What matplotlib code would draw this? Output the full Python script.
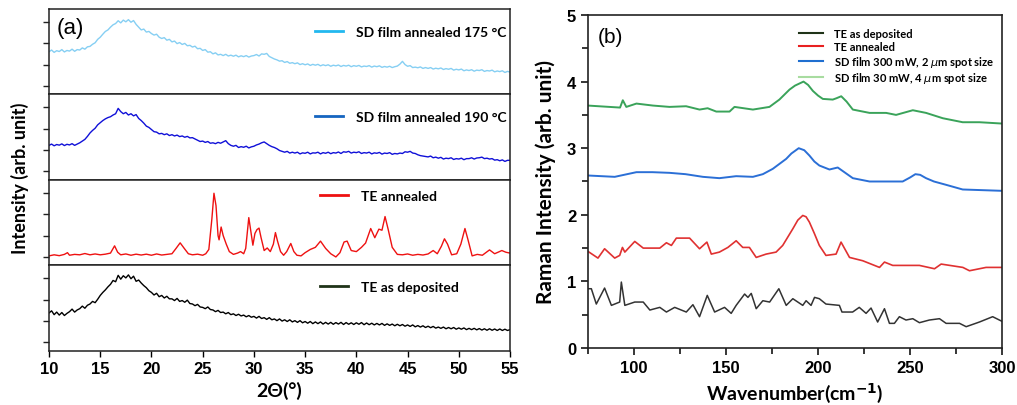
import numpy as np
import matplotlib
matplotlib.use("Agg")
import matplotlib.pyplot as plt
from matplotlib.lines import Line2D

# ---------------- XRD data (panel a), arbitrary units per sub-panel ----------------
two_theta = np.arange(10, 55.001, 0.25)

xrd_175 = [
    1.60, 1.68, 1.57, 1.65, 1.61, 1.70, 1.59, 1.66, 1.63, 1.72, 1.62, 1.70,
    1.68, 1.78, 1.72, 1.83, 1.85, 1.95, 2.02, 2.18, 2.28, 2.42, 2.55, 2.62,
    2.75, 2.86, 2.92, 3.05, 2.95, 3.08, 3.00, 3.10, 2.98, 3.06, 2.88, 2.75,
    2.62, 2.66, 2.52, 2.55, 2.45, 2.38, 2.42, 2.28, 2.22, 2.26, 2.14, 2.18,
    2.06, 2.10, 1.98, 2.03, 1.94, 1.99, 1.88, 1.90, 1.82, 1.86, 1.74, 1.76,
    1.66, 1.70, 1.58, 1.60, 1.50, 1.55, 1.45, 1.48, 1.42, 1.48, 1.40, 1.44,
    1.39, 1.44, 1.36, 1.41, 1.37, 1.42, 1.35, 1.40, 1.42, 1.47, 1.40, 1.50,
    1.48, 1.52, 1.38, 1.32, 1.26, 1.22, 1.16, 1.18, 1.10, 1.14, 1.06, 1.09,
    1.04, 1.08, 1.00, 1.04, 0.99, 1.03, 0.96, 1.01, 0.97, 1.01, 0.94, 0.99,
    0.95, 0.99, 0.92, 0.97, 0.94, 0.98, 0.91, 0.96, 0.93, 0.97, 0.90, 0.95,
    0.92, 0.96, 0.89, 0.93, 0.91, 0.95, 0.88, 0.93, 0.90, 0.94, 0.87, 0.91,
    0.88, 0.92, 0.86, 0.90, 0.93, 1.02, 1.15, 1.00, 0.92, 0.95, 0.86, 0.88,
    0.85, 0.89, 0.82, 0.86, 0.82, 0.86, 0.79, 0.83, 0.80, 0.84, 0.77, 0.81,
    0.78, 0.82, 0.74, 0.78, 0.75, 0.79, 0.71, 0.75, 0.72, 0.76, 0.69, 0.74,
    0.72, 0.76, 0.68, 0.72, 0.70, 0.74, 0.66, 0.70, 0.67, 0.71, 0.63, 0.68,
    0.65,
]

xrd_190 = [
    1.22, 1.28, 1.20, 1.26, 1.23, 1.29, 1.21, 1.27, 1.24, 1.30, 1.22, 1.28,
    1.34, 1.42, 1.50, 1.64, 1.80, 1.92, 2.02, 2.18, 2.28, 2.38, 2.46, 2.52,
    2.56, 2.64, 2.70, 2.95, 2.80, 2.70, 2.76, 2.64, 2.70, 2.60, 2.66, 2.48,
    2.38, 2.26, 2.12, 2.06, 1.96, 1.86, 1.84, 1.76, 1.78, 1.72, 1.76, 1.68,
    1.72, 1.66, 1.70, 1.63, 1.66, 1.60, 1.64, 1.57, 1.58, 1.52, 1.46, 1.40,
    1.42, 1.36, 1.40, 1.32, 1.34, 1.30, 1.36, 1.32, 1.38, 1.44, 1.30, 1.22,
    1.18, 1.22, 1.12, 1.16, 1.13, 1.18, 1.10, 1.15, 1.18, 1.24, 1.28, 1.34,
    1.38, 1.30, 1.22, 1.16, 1.12, 1.06, 0.98, 0.94, 0.90, 0.94, 0.86, 0.90,
    0.86, 0.90, 0.82, 0.87, 0.85, 0.90, 0.82, 0.87, 0.86, 0.90, 0.82, 0.88,
    0.85, 0.90, 0.83, 0.88, 0.86, 0.91, 0.84, 0.92, 0.90, 0.94, 0.86, 0.90,
    0.88, 0.92, 0.84, 0.88, 0.86, 0.90, 0.82, 0.87, 0.85, 0.89, 0.81, 0.86,
    0.84, 0.88, 0.80, 0.84, 0.82, 0.86, 0.84, 0.92, 0.90, 0.94, 0.86, 0.84,
    0.78, 0.74, 0.72, 0.70, 0.68, 0.72, 0.64, 0.67, 0.62, 0.66, 0.58, 0.62,
    0.60, 0.64, 0.56, 0.60, 0.58, 0.62, 0.55, 0.60, 0.60, 0.64, 0.58, 0.63,
    0.64, 0.67, 0.60, 0.62, 0.58, 0.60, 0.53, 0.55, 0.50, 0.54, 0.47, 0.52,
    0.52,
]

xrd_te_dep = [
    1.38, 1.48, 1.30, 1.42, 1.28, 1.40, 1.26, 1.36, 1.44, 1.56, 1.42, 1.52,
    1.58, 1.70, 1.60, 1.74, 1.80, 1.92, 1.86, 2.02, 2.20, 2.34, 2.46, 2.60,
    2.72, 2.90, 2.84, 3.14, 2.96, 3.12, 3.02, 3.16, 2.98, 3.10, 2.86, 2.92,
    2.78, 2.66, 2.56, 2.42, 2.34, 2.22, 2.30, 2.14, 2.20, 2.08, 2.16, 2.04,
    2.04, 1.96, 2.06, 1.92, 1.96, 1.88, 1.98, 1.82, 1.80, 1.72, 1.78, 1.66,
    1.64, 1.58, 1.66, 1.54, 1.52, 1.44, 1.50, 1.40, 1.42, 1.34, 1.40, 1.30,
    1.34, 1.26, 1.32, 1.24, 1.28, 1.20, 1.26, 1.18, 1.22, 1.14, 1.22, 1.12,
    1.16, 1.08, 1.16, 1.06, 1.10, 1.02, 1.10, 1.00, 1.06, 0.98, 1.06, 0.96,
    1.02, 0.94, 1.02, 0.92, 0.98, 0.90, 0.98, 0.88, 0.96, 0.88, 0.96, 0.86,
    0.94, 0.86, 0.94, 0.85, 0.93, 0.86, 0.94, 0.84, 0.93, 0.85, 0.92, 0.84,
    0.92, 0.85, 0.93, 0.83, 0.91, 0.83, 0.90, 0.82, 0.89, 0.82, 0.89, 0.80,
    0.87, 0.80, 0.86, 0.78, 0.85, 0.78, 0.84, 0.76, 0.82, 0.75, 0.82, 0.73,
    0.79, 0.72, 0.78, 0.70, 0.76, 0.69, 0.75, 0.67, 0.72, 0.66, 0.72, 0.64,
    0.70, 0.64, 0.70, 0.62, 0.68, 0.62, 0.68, 0.60, 0.66, 0.60, 0.66, 0.59,
    0.65, 0.58, 0.64, 0.57, 0.64, 0.57, 0.63, 0.56, 0.63, 0.56, 0.62, 0.56,
    0.60,
]

# TE annealed: crystalline peaks, irregular sampling
te_ann_x = [
    10.0, 10.5, 11.0, 11.5, 11.8, 12.0, 12.5, 13.0, 13.5, 14.0, 14.5, 15.0,
    15.5, 16.0, 16.4, 16.7, 17.0, 17.5, 18.0, 18.5, 19.0, 19.5, 20.0, 20.5,
    21.0, 21.5, 22.0, 22.4, 22.8, 23.2, 23.6, 24.0, 24.5, 25.0, 25.3, 25.6,
    25.9, 26.1, 26.3, 26.5, 26.6, 26.8, 27.0, 27.3, 27.6, 28.0, 28.4, 28.7,
    29.0, 29.2, 29.5, 29.7, 29.9, 30.1, 30.3, 30.5, 30.7, 31.0, 31.3, 31.6,
    31.9, 32.1, 32.3, 32.6, 32.9, 33.2, 33.6, 33.9, 34.2, 34.6, 35.0, 35.5,
    36.0, 36.5, 37.0, 37.5, 38.0, 38.4, 38.8, 39.1, 39.5, 40.0, 40.5, 40.9,
    41.4, 41.8, 42.2, 42.5, 42.8, 43.1, 43.5, 44.0, 44.5, 45.0, 45.5, 46.0,
    46.5, 47.0, 47.5, 47.9, 48.3, 48.6, 48.9, 49.3, 49.8, 50.2, 50.6, 50.9,
    51.3, 51.8, 52.3, 53.0, 53.5, 54.2, 54.6, 55.0,
]
te_ann_y = [
    0.05, 0.10, 0.06, 0.12, 0.20, 0.08, 0.12, 0.10, 0.16, 0.10, 0.14, 0.10,
    0.13, 0.18, 0.52, 0.22, 0.10, 0.14, 0.08, 0.13, 0.09, 0.13, 0.08, 0.14,
    0.09, 0.12, 0.15, 0.40, 0.66, 0.40, 0.15, 0.10, 0.13, 0.08, 0.15, 0.35,
    1.80, 2.98, 2.40, 1.00, 0.80, 1.40, 1.00, 0.60, 0.25, 0.12, 0.18, 0.25,
    0.15, 0.40, 1.84, 1.20, 0.55, 1.10, 1.28, 1.35, 0.90, 0.30, 0.42, 0.25,
    0.60, 1.14, 0.75, 0.25, 0.08, 0.25, 0.63, 0.25, 0.08, 0.05, 0.20, 0.35,
    0.45, 0.74, 0.40, 0.15, 0.00, 0.20, 0.70, 0.74, 0.30, 0.25, 0.45, 0.65,
    1.33, 0.90, 1.30, 1.25, 1.89, 1.30, 0.45, 0.12, 0.10, 0.14, 0.08, 0.12,
    0.09, 0.14, 0.30, 0.15, 0.50, 0.85, 0.60, 0.10, 0.15, 0.60, 1.33, 0.80,
    0.05, 0.12, 0.08, 0.33, 0.15, 0.30, 0.22, 0.18,
]

# ---------------- Raman data (panel b) ----------------
sd30_x = [75, 92.4, 93.9, 95.8, 101.3, 110.3, 119.3, 128.3, 135.6, 140, 144.7,
          151.9, 154.6, 164.6, 173.6, 179, 184.5, 187.5, 189.8, 192.1, 194.6,
          197.2, 200, 202.6, 208, 210, 212.6, 215.5, 218.9, 228, 237, 242.4,
          251.5, 258.7, 267.8, 278.6, 287.7, 300]
sd30_y = [3.64, 3.61, 3.72, 3.62, 3.67, 3.64, 3.62, 3.63, 3.58, 3.60, 3.55,
          3.55, 3.62, 3.58, 3.62, 3.73, 3.88, 3.94, 3.97, 4.00, 3.95,
          3.86, 3.79, 3.74, 3.73, 3.75, 3.78, 3.70, 3.58, 3.53, 3.53, 3.50,
          3.57, 3.53, 3.45, 3.39, 3.39, 3.37]

sd300_x = [75, 89.5, 101.3, 110, 119.3, 128, 137.4, 146.4, 155.5, 164.6, 170,
           175.4, 182.7, 185.5, 189.5, 192.5, 195.3, 198, 200.7, 206.2, 210.7,
           214.3, 218.9, 228, 246, 250, 252.9, 255.5, 258.7, 263, 269.6,
           278.6, 300]
sd300_y = [2.59, 2.57, 2.64, 2.64, 2.63, 2.61, 2.57, 2.55, 2.58, 2.57, 2.61,
           2.69, 2.84, 2.92, 3.00, 2.97, 2.89, 2.80, 2.74, 2.68, 2.71,
           2.64, 2.55, 2.50, 2.50, 2.56, 2.61, 2.60, 2.55, 2.50, 2.45,
           2.38, 2.36]

ram_ann_x = [75, 80.4, 84, 89.5, 92.2, 93.7, 95, 100.4, 105, 114, 117.6, 120.3,
             123, 130.2, 135.6, 139.6, 142, 146.4, 151, 155.5, 159.1, 162.7,
             166.4, 171.8, 177.2, 180.8, 186.3, 189, 191.7, 193.5, 195.3, 198,
             200.7, 204.3, 209.8, 212.5, 217.1, 224.3, 233.4, 236.1, 240.6,
             255.1, 263.3, 266.9, 278.7, 282.3, 291.3, 300]
ram_ann_y = [1.45, 1.35, 1.49, 1.35, 1.39, 1.51, 1.44, 1.60, 1.50, 1.50, 1.58,
             1.54, 1.65, 1.65, 1.49, 1.59, 1.41, 1.44, 1.51, 1.61, 1.51, 1.51,
             1.36, 1.41, 1.44, 1.54, 1.79, 1.92, 1.99, 1.97, 1.89, 1.72,
             1.54, 1.39, 1.41, 1.59, 1.36, 1.31, 1.21, 1.29, 1.24,
             1.24, 1.19, 1.26, 1.21, 1.16, 1.21, 1.21]

ram_dep_x = [75, 76.8, 79.5, 84, 87.7, 92.2, 93.1, 95, 100.4, 105, 108.6, 114,
             117.6, 122.1, 128.4, 132, 135.6, 139.8, 143.8, 149.2, 152.8, 155.5,
             160.1, 161.9, 163.7, 166.4, 170, 173.7, 178.7, 182.7, 186.3, 191.7,
             193.5, 196.2, 198.1, 200.7, 204.3, 211.6, 213, 218.8, 222.4, 226.1,
             228.8, 232.4, 236.1, 238.8, 241.5, 244.2, 247.8, 251.5, 255.1,
             260.5, 266, 269.6, 276.9, 280.5, 287.7, 294.9, 300]
ram_dep_y = [0.89, 0.89, 0.66, 0.90, 0.64, 0.69, 0.99, 0.64, 0.69, 0.69, 0.57, 0.61,
             0.54, 0.61, 0.54, 0.65, 0.47, 0.79, 0.54, 0.61, 0.52, 0.64,
             0.81, 0.76, 0.82, 0.59, 0.71, 0.69, 0.89, 0.64, 0.74, 0.64,
             0.71, 0.64, 0.76, 0.74, 0.66, 0.64, 0.54, 0.54, 0.61, 0.52,
             0.60, 0.39, 0.59, 0.37, 0.37, 0.47, 0.42, 0.44, 0.38,
             0.42, 0.44, 0.37, 0.37, 0.32, 0.39, 0.47, 0.40]

raman_xticks = [100, 150, 200, 250, 300]
raman_yticks = [0, 1, 2, 3, 4, 5]
xrd_xticks = [10, 15, 20, 25, 30, 35, 40, 45, 50, 55]

LBL = "Lato"
TCK = "Liberation Sans"
tick_font = {"fontfamily": TCK, "fontweight": "bold", "fontsize": 12}

fig = plt.figure(figsize=(10.17, 4.06), dpi=100)

# ---------------- panel (a): four stacked XRD axes ----------------
left, width = 0.0482, 0.4533
bottom, top = 0.133, 0.9754
h = (top - bottom) / 4

panels = [
    (two_theta, xrd_175, "#86cff3", "#22b8ef", "SD film annealed 175 \u00b0C", (0.55, 0.95)),
    (two_theta, xrd_190, "#1010d8", "#1565c0", "SD film annealed 190 \u00b0C", (0.55, 0.95)),
    (te_ann_x, te_ann_y, "#ee1111", "#ee1111", "TE annealed", (0.561, 1.03)),
    (two_theta, xrd_te_dep, "#000000", "#1f3318", "TE as deposited", (0.561, 0.97)),
]

axes_a = []
for i, (xx, yy, col, legcol, lab, anchor) in enumerate(panels):
    ax = fig.add_axes([left, top - (i + 1) * h, width, h])
    ax.plot(xx, yy, color=col, lw=1.0)
    ax.set_xlim(10, 55)
    ax.set_ylim(-0.4, 3.6)
    ax.set_yticks([0, 1, 2, 3])
    ax.set_yticklabels([])
    ax.tick_params(axis="y", direction="out", length=4, width=1, color="#222222")
    for s in ax.spines.values():
        s.set_linewidth(1.1)
        s.set_color("#222222")
    handle = Line2D([], [], color=legcol, lw=2)
    ax.legend([handle], [lab], loc="upper left", bbox_to_anchor=anchor,
              frameon=False, handlelength=2.0, handletextpad=0.95,
              prop={"family": LBL, "weight": "bold", "size": 10})
    if i < 3:
        ax.set_xticks([])
    else:
        ax.set_xticks(xrd_xticks, [str(v) for v in xrd_xticks], **tick_font)
        ax.tick_params(axis="x", direction="out", length=4, width=1, pad=3)
        ax.set_xlabel("2\u0398(\u00b0)", fontfamily=LBL, fontweight="bold",
                      fontsize=14, labelpad=4)
    axes_a.append(ax)

axes_a[0].text(0.017, 0.91, "(a)", transform=axes_a[0].transAxes, fontsize=16,
               fontfamily="Liberation Sans", va="top", ha="left")
fig.text(0.02, 0.562, "Intensity (arb. unit)", rotation=90,
         ha="center", va="center", fontfamily=LBL, fontweight="bold", fontsize=13)

# ---------------- panel (b): Raman ----------------
axb = fig.add_axes([0.5782, 0.1404, 0.4071, 0.8202])
axb.plot(ram_dep_x, ram_dep_y, color="#333333", lw=1.1)
axb.plot(ram_ann_x, ram_ann_y, color="#e03131", lw=1.2)
axb.plot(sd300_x, sd300_y, color="#2b6fd6", lw=1.4)
axb.plot(sd30_x, sd30_y, color="#3aa35a", lw=1.4)
axb.set_xlim(75, 300)
axb.set_ylim(0, 5)
axb.set_xticks(raman_xticks, [str(v) for v in raman_xticks], **tick_font)
axb.set_xticks(np.arange(75, 301, 25), minor=True)
axb.set_yticks(raman_yticks, [str(v) for v in raman_yticks], **tick_font)
axb.set_yticks(np.arange(0.5, 5, 1.0), minor=True)
axb.tick_params(which="major", direction="out", length=5, width=1.1)
axb.tick_params(which="minor", direction="out", length=4, width=1.1)
for s in axb.spines.values():
    s.set_linewidth(1.2)
    s.set_color("#222222")
axb.set_xlabel("Wavenumber(cm$^{\\mathbf{-1}}$)", fontfamily=LBL, fontweight="bold",
               fontsize=14, labelpad=4)
axb.set_ylabel("Raman Intensity (arb. unit)", fontfamily=LBL, fontweight="bold",
               fontsize=15, labelpad=8)
axb.text(0.024, 0.965, "(b)", transform=axb.transAxes, fontsize=15,
         fontfamily="Liberation Sans", va="top", ha="left")

leg_handles = [
    Line2D([], [], color="#1f3318", lw=1.5),
    Line2D([], [], color="#e82020", lw=1.5),
    Line2D([], [], color="#1f6fd0", lw=1.5),
    Line2D([], [], color="#a8dca0", lw=1.5),
]
leg_labels = ["TE as deposited", "TE annealed",
              "SD film 300 mW, 2 $\\mu$m spot size",
              "SD film 30 mW, 4 $\\mu$m spot size"]
axb.legend(leg_handles, leg_labels, loc="upper left", bbox_to_anchor=(0.485, 0.99),
           frameon=False, handlelength=2.15, handletextpad=1.0, labelspacing=0.15,
           prop={"family": LBL, "weight": "bold", "size": 8})

fig.savefig("out.png", dpi=100)
